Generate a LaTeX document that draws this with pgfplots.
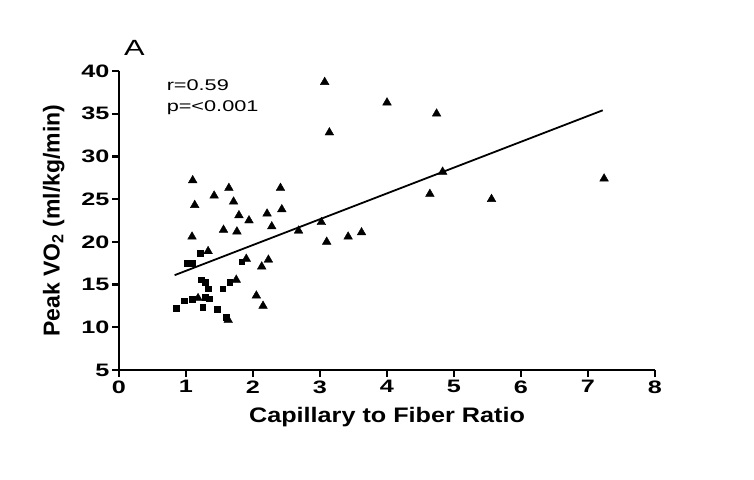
\documentclass[border=0pt]{standalone}
\usepackage{fontspec}
\setmainfont{Liberation Sans}
\newfontfamily\widefont[FakeStretch=1.4]{Liberation Sans}
\newfontfamily\midfont[FakeStretch=1.2]{Liberation Sans}
\usepackage{pgfplots}
\pgfplotsset{compat=1.18}

\begin{document}
\begin{tikzpicture}
\path[use as bounding box] (-119pt,-109pt) rectangle (635pt,370pt);
\begin{axis}[
  at={(0pt,0pt)}, anchor=south west,
  scale only axis, width=536pt, height=299pt,
  xmin=0, xmax=8, ymin=5, ymax=40,
  xtick={0,...,8}, ytick={5,10,...,40},
  axis x line*=bottom, axis y line*=left,
  axis line style={draw=none},
  tick align=outside, major tick length=6pt,
  major tick style={draw=none},
  /pgf/number format/assume math mode=true,
  ticklabel style={font=\widefont\bfseries\fontsize{18}{18}\selectfont},
  xticklabel style={yshift=-1pt},
  xlabel={Capillary to Fiber Ratio},
  xlabel style={font=\midfont\bfseries\fontsize{21}{21}\selectfont, yshift=-7pt},
  ylabel={Peak VO\textsubscript{2} (ml/kg/min)},
  ylabel style={font=\bfseries\fontsize{23}{23}\selectfont, yshift=10pt},
  unbounded coords=jump,
  clip=false,
]
% Prism-style frame: axis lines and outward ticks
\addplot[black, line width=2.8pt, forget plot] coordinates {(0,40) (0,5) (8,5)};
\addplot[black, line width=2.2pt, forget plot] coordinates {
(0,5) (0,4.2) (nan,nan) (1,5) (1,4.2) (nan,nan) (2,5) (2,4.2) (nan,nan)
(3,5) (3,4.2) (nan,nan) (4,5) (4,4.2) (nan,nan) (5,5) (5,4.2) (nan,nan)
(6,5) (6,4.2) (nan,nan) (7,5) (7,4.2) (nan,nan) (8,5) (8,4.2)
};
\addplot[black, line width=2.2pt, forget plot] coordinates {
(0,5) (-0.1,5) (nan,nan) (0,10) (-0.1,10) (nan,nan) (0,15) (-0.1,15) (nan,nan)
(0,20) (-0.1,20) (nan,nan) (0,25) (-0.1,25) (nan,nan) (0,30) (-0.1,30) (nan,nan)
(0,35) (-0.1,35) (nan,nan) (0,40) (-0.1,40)
};
% squares
\addplot[only marks, mark=square*, mark size=2.8pt, black] coordinates {
(1.21,18.7) (1.02,17.5) (1.09,17.5) (1.83,17.7) (1.23,15.55) (1.29,15.3)
(1.33,14.5) (1.55,14.5) (1.65,15.3) (0.85,12.2) (0.97,13.1) (1.09,13.3)
(1.25,12.35) (1.29,13.55) (1.35,13.35) (1.47,12.1) (1.60,11.2)
};
% triangles
\addplot[only marks, mark=triangle*, mark size=5pt, black] coordinates {
(1.10,27.2) (1.64,26.3) (2.41,26.3) (1.42,25.4) (1.71,24.7) (1.13,24.3)
(1.79,23.1) (1.94,22.5) (2.21,23.3) (2.43,23.8) (2.28,21.8) (1.56,21.4)
(1.76,21.2) (1.09,20.6) (1.33,18.9) (1.90,18.0) (2.23,17.9) (2.13,17.1)
(1.75,15.55) (1.18,13.4) (2.05,13.7) (2.15,12.5) (1.63,10.85)
(3.07,38.7) (4.00,36.3) (4.74,35.0) (3.14,32.8) (4.83,28.2) (7.24,27.4)
(4.64,25.6) (5.56,25.0) (2.68,21.3) (3.02,22.3) (3.10,20.0) (3.42,20.6)
(3.62,21.1)
};
% regression line
\addplot[black, line width=1.8pt] coordinates {(0.83,16.1) (7.22,35.4)};
\node[anchor=west, align=left, font=\widefont\fontsize{15.5}{21}\selectfont] at (axis cs:0.66,36.9) {r=0.59\\p=<0.001};
\node[font=\widefont\fontsize{22}{22}\selectfont] at (axis cs:0.23,42.7) {A};
\end{axis}
\end{tikzpicture}
\end{document}
